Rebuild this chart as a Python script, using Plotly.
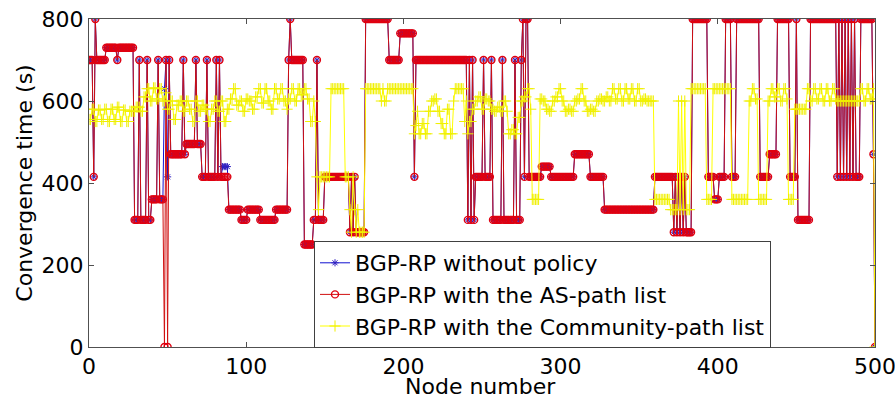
import plotly.graph_objects as go

# ---------------- data ----------------
node_count = 501  # nodes 0..500

# BGP-RP with the AS-path list: value holds from each start node until the next one
as_path_start = [0, 3, 4, 5, 11, 18, 19, 29, 32, 33, 37, 38, 40, 44, 45, 48, 49, 50, 51, 52,
                 60, 61, 62, 68, 69, 72, 75, 76, 81, 82, 83, 84, 89, 97, 101, 109, 119, 127,
                 128, 129, 137, 143, 145, 146, 150, 166, 167, 168, 169, 170, 176, 191, 198,
                 207, 208, 241, 242, 243, 244, 245, 246, 251, 252, 256, 257, 263, 264, 271,
                 272, 275, 276, 277, 278, 280, 288, 294, 309, 319, 328, 360, 372, 373, 374,
                 375, 376, 377, 378, 379, 380, 384, 394, 398, 401, 405, 409, 412, 427, 433,
                 438, 446, 450, 451, 459, 476, 477, 478, 479, 480, 481, 482, 483, 484, 485,
                 486, 487, 488, 491, 499, 500]
as_path_value = [700, 415, 800, 700, 730, 700, 730, 310, 700, 310, 700, 310, 360, 700, 360, 0, 700, 0, 700, 470,
                 700, 470, 495, 700, 495, 415, 700, 415, 700, 415, 700, 415, 335, 310, 335, 310, 335, 700,
                 800, 700, 250, 310, 700, 310, 415, 280, 415, 280, 415, 280, 800, 700, 765,
                 415, 700, 310, 700, 310, 700, 310, 415, 700, 415, 700, 310, 700, 310, 700,
                 310, 700, 800, 415, 800, 415, 440, 415, 470, 415, 335, 415, 280, 415, 280,
                 415, 280, 415, 280, 415, 280, 800, 415, 360, 415, 800, 415, 800, 415, 470,
                 800, 415, 800, 310, 800, 415, 800, 415, 800, 415, 800, 415, 800, 415, 800,
                 415, 800, 415, 800, 470, 0]

# BGP-RP without policy: identical to the AS-path series except at these nodes
no_policy_diff_nodes = [48, 50, 85, 86, 87, 88]
no_policy_diff_values = [630, 415, 440, 440, 440, 440]

# BGP-RP with the Community-path list
community_start = [0, 2, 4, 6, 8, 10, 12, 14, 16, 18, 20, 22, 24, 26, 30, 33, 35, 37, 39, 41, 43, 45,
                   47, 49, 50, 52, 54, 56, 58, 60, 62, 64, 66, 68, 70, 72, 74, 76, 78, 80, 82, 84,
                   86, 88, 90, 92, 94, 96, 98, 100, 102, 104, 106, 108, 110, 112, 114, 116, 118,
                   120, 122, 124, 126, 127, 129, 131, 133, 135, 137, 139, 141, 143, 144, 145, 146,
                   147, 154, 163, 166, 167, 168, 169, 170, 171, 172, 176, 186, 187, 188, 190, 207,
                   208, 209, 210, 212, 214, 216, 218, 220, 222, 224, 226, 228, 230, 232, 233, 239,
                   240, 241, 242, 244, 246, 248, 250, 252, 254, 256, 258, 260, 262, 264, 266, 267,
                   269, 271, 273, 275, 277, 279, 281, 282, 287, 289, 291, 293, 295, 297, 299, 301,
                   303, 305, 307, 309, 311, 313, 315, 317, 319, 321, 323, 325, 327, 329, 331, 333,
                   335, 337, 339, 341, 343, 345, 347, 349, 351, 353, 355, 360, 370, 375, 376, 377,
                   378, 379, 380, 383, 393, 397, 409, 420, 422, 424, 426, 432, 434, 436, 438, 440,
                   442, 444, 445, 449, 457, 459, 461, 463, 465, 467, 469, 471, 473, 475, 476, 491,
                   493, 495, 497, 499, 500]
community_value = [555, 580, 550, 578, 555, 580, 550, 580, 555, 585, 550, 578, 550, 575, 585, 575, 610, 630, 600, 632, 605, 630,
                   600, 620, 580, 600, 555, 590, 600, 575, 600, 580, 550, 600, 575, 590, 580, 550, 580, 600, 575, 600,
                   550, 580, 605, 630, 590, 600, 575, 605, 600, 580, 610, 630, 595, 630, 600, 580, 630,
                   605, 630, 600, 580, 605, 630, 600, 630, 615, 630, 605, 550, 600, 550, 415, 335,
                   415, 630, 415, 335, 280, 415, 335, 280, 335, 280, 630, 600, 630, 600, 630, 520,
                   540, 575, 520, 545, 520, 575, 600, 605, 575, 545, 520, 580, 520, 600, 630, 550,
                   600, 520, 550, 580, 600, 610, 580, 605, 600, 580, 575, 585, 575, 600, 575, 520,
                   530, 520, 560, 600, 610, 630, 580, 360, 605, 600, 580, 575, 600, 610, 630, 600,
                   575, 580, 575, 600, 605, 630, 600, 575, 580, 575, 600, 605, 600, 610, 600, 630,
                   605, 630, 600, 630, 605, 630, 600, 630, 600, 605, 600, 360, 335, 600, 335, 600,
                   335, 600, 335, 630, 360, 630, 360, 600, 630, 605, 360, 600, 630, 610, 630, 600,
                   630, 605, 360, 580, 630, 600, 630, 605, 630, 600, 630, 600, 630, 605, 600, 630,
                   600, 630, 605, 630, 0]

x_ticks = [0, 100, 200, 300, 400, 500]
y_ticks = [0, 200, 400, 600, 800]


def expand(starts, values, n):
    out = []
    for i, s in enumerate(starts):
        e = starts[i + 1] if i + 1 < len(starts) else n
        out.extend([values[i]] * (e - s))
    return out


nodes = list(range(node_count))
as_path = expand(as_path_start, as_path_value, node_count)
no_policy = list(as_path)
for nd, v in zip(no_policy_diff_nodes, no_policy_diff_values):
    no_policy[nd] = v
community = expand(community_start, community_value, node_count)

FONT = "DejaVu Sans, Arial, sans-serif"
FS = 22

fig = go.Figure()
fig.add_trace(go.Scatter(
    x=nodes, y=no_policy, mode="lines+markers", name="BGP-RP without policy",
    line=dict(color="#1010D0", width=1),
    marker=dict(symbol="asterisk-open", size=6, color="#3020C0", line=dict(width=1, color="#3020C0")),
))
fig.add_trace(go.Scatter(
    x=nodes, y=as_path, mode="lines+markers", name="BGP-RP with the AS-path list",
    line=dict(color="#D01010", width=1),
    marker=dict(symbol="circle-open", size=7, color="#E00010", line=dict(width=1.4, color="#E00010")),
))
fig.add_trace(go.Scatter(
    x=nodes, y=community, mode="lines+markers", name="BGP-RP with the Community-path list",
    line=dict(color="#FFFF00", width=1),
    marker=dict(symbol="cross-thin-open", size=8, color="#F0F000", line=dict(width=1, color="#F0F000")),
))

fig.update_layout(
    width=895, height=398,
    margin=dict(l=89, r=20, t=19, b=51, autoexpand=False),
    paper_bgcolor="white", plot_bgcolor="white",
    font=dict(family=FONT, size=FS, color="black"),
    showlegend=True,
    legend=dict(
        x=(314 - 89) / 786, y=(347 - 241) / 328, xanchor="left", yanchor="top",
        bgcolor="white", bordercolor="#404040", borderwidth=1,
        font=dict(family=FONT, size=FS, color="black"),
        tracegroupgap=0, itemwidth=30,
    ),
    annotations=[dict(
        text="Node number", xref="paper", yref="paper", x=(480 - 89) / 786, y=(347 - 386) / 328,
        xanchor="center", yanchor="middle", showarrow=False,
        font=dict(family=FONT, size=FS, color="black"),
    )],
)
fig.update_xaxes(
    range=[0, 500], tickvals=x_ticks, ticktext=[str(v) for v in x_ticks],
    showline=True, mirror="ticks", linecolor="#505050", linewidth=1,
    ticks="inside", ticklen=5, tickcolor="#505050", showgrid=False, zeroline=False,
    ticklabeloverflow="allow", automargin=False,
    tickfont=dict(family=FONT, size=FS),
)
fig.update_yaxes(
    range=[0, 800], tickvals=y_ticks, ticktext=[str(v) for v in y_ticks],
    showline=True, mirror="ticks", linecolor="#505050", linewidth=1,
    ticks="inside", ticklen=5, tickcolor="#505050", showgrid=False, zeroline=False,
    ticklabeloverflow="allow", automargin=False,
    title=dict(text="Convergence time (s)", font=dict(family=FONT, size=FS), standoff=2),
    tickfont=dict(family=FONT, size=FS),
)

fig.write_html(
    "out.html",
    config={"displayModeBar": False},
    post_script="document.body.style.margin='0';document.body.style.padding='0';",
)
